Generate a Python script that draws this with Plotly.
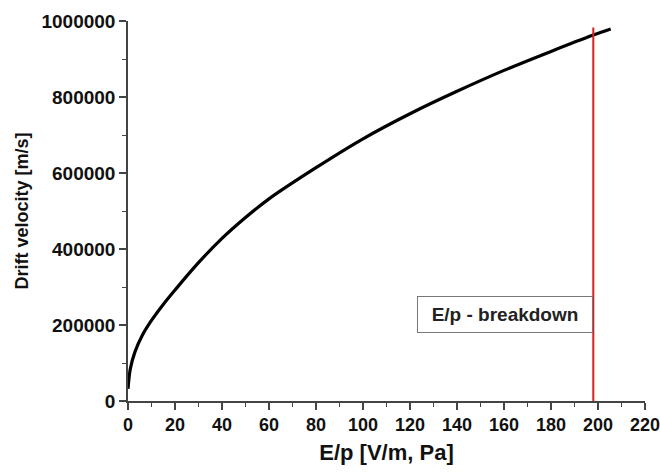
import plotly.graph_objects as go

# Data
ep = [0, 1, 3, 6, 10, 15, 20, 30, 40, 50, 60, 80, 100, 120, 140, 160, 180, 198, 205.4]
drift_velocity = [32000, 85000, 130000, 172000, 212000, 254000, 292000, 364000, 428000, 483000,
                  532000, 614000, 690000, 756000, 815000, 870000, 920000, 963000, 979000]
x_ticks = [0, 20, 40, 60, 80, 100, 120, 140, 160, 180, 200, 220]
y_ticks = [0, 200000, 400000, 600000, 800000, 1000000]
breakdown_ep = 198
breakdown_label = "E/p - breakdown"

FONT = "Arial, Liberation Sans, sans-serif"

fig = go.Figure()
fig.add_trace(go.Scatter(
    x=ep, y=drift_velocity, mode="lines",
    line=dict(color="black", width=3.2, shape="spline", smoothing=1.0),
    showlegend=False, hoverinfo="skip"))

fig.add_trace(go.Scatter(
    x=[breakdown_ep, breakdown_ep], y=[0, 983000], mode="lines",
    line=dict(color="#d42020", width=2), showlegend=False, hoverinfo="skip"))

fig.add_annotation(
    x=breakdown_ep, y=227000, xref="x", yref="y",
    xanchor="right", yanchor="middle", showarrow=False,
    text="<b>" + breakdown_label + "</b>",
    font=dict(family=FONT, size=19, color="#222"),
    bordercolor="#777", borderwidth=1, bgcolor="white",
    width=172, height=33, align="center")

axis_common = dict(
    showline=True, linecolor="#444", linewidth=1.5,
    ticks="outside", ticklen=7, tickwidth=1.5, tickcolor="#444",
    showgrid=False, zeroline=False, automargin=False,
    ticklabeloverflow="allow",
)

fig.update_xaxes(
    range=[0, 220], tickmode="array", tickvals=x_ticks,
    ticktext=["<b>%d</b>" % v for v in x_ticks],
    minor=dict(ticks="outside", ticklen=4, tickvals=[v + 10 for v in x_ticks[:-1]], tickcolor="#444", tickwidth=1.2),
    tickfont=dict(family=FONT, size=18, color="#111"),
    title=dict(text="<b>E/p [V/m, Pa]</b>", font=dict(family=FONT, size=22, color="#111"), standoff=10),
    **axis_common)
fig.update_yaxes(
    range=[0, 1000000], tickmode="array", tickvals=y_ticks,
    ticktext=["<b>%d</b>" % v for v in y_ticks],
    minor=dict(ticks="outside", ticklen=4, tickvals=[v + 100000 for v in y_ticks[:-1]], tickcolor="#444", tickwidth=1.2),
    tickfont=dict(family=FONT, size=19, color="#111"),
    title=dict(text="<b>Drift velocity [m/s]</b>", font=dict(family=FONT, size=18, color="#111"), standoff=8),
    **axis_common)

fig.update_layout(
    width=660, height=472,
    margin=dict(l=128, r=15, t=21, b=71),
    plot_bgcolor="white", paper_bgcolor="white",
)

fig.write_html("out.html")
